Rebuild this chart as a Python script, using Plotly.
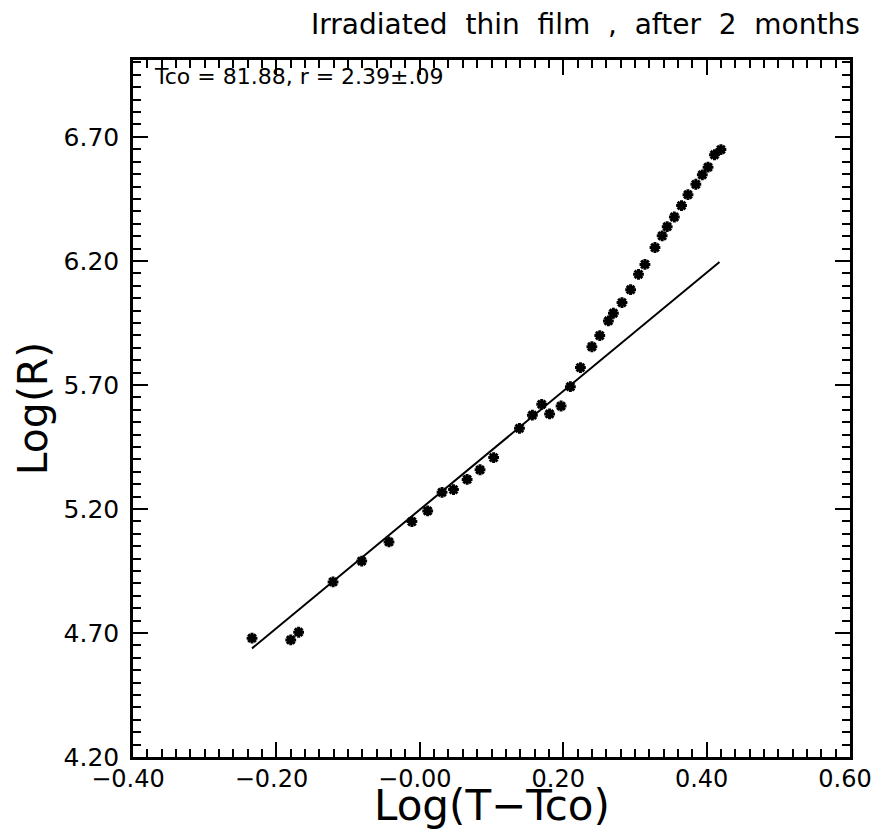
import plotly.graph_objects as go

# Measured data: log(T - Tco) vs log(R)
log_dt = [-0.234, -0.180, -0.169, -0.121, -0.081, -0.043, -0.011, 0.011, 0.031,
          0.047, 0.066, 0.084, 0.103, 0.139, 0.157, 0.170, 0.181, 0.197, 0.210,
          0.224, 0.240, 0.251, 0.263, 0.270, 0.282, 0.294, 0.305, 0.314, 0.328,
          0.338, 0.345, 0.355, 0.365, 0.374, 0.385, 0.394, 0.402, 0.411, 0.420]
log_r = [4.679, 4.672, 4.703, 4.906, 4.990, 5.067, 5.149, 5.192, 5.267,
         5.278, 5.319, 5.358, 5.407, 5.525, 5.578, 5.622, 5.583, 5.615, 5.693,
         5.770, 5.854, 5.899, 5.958, 5.989, 6.032, 6.084, 6.146, 6.186, 6.254,
         6.301, 6.338, 6.377, 6.423, 6.467, 6.509, 6.547, 6.578, 6.628, 6.649]

# Power-law fit line (r = 2.39)
fit_x = [-0.234, 0.418]
fit_y = [4.638, 6.196]

x_tick_vals = [-0.4, -0.2, 0.0, 0.2, 0.4, 0.6]
x_tick_text = ["\u22120.40", "\u22120.20", "\u22120.00", "0.20", "0.40", "0.60"]
y_tick_vals = [4.2, 4.7, 5.2, 5.7, 6.2, 6.7]
y_tick_text = ["4.20", "4.70", "5.20", "5.70", "6.20", "6.70"]

FONT = "DejaVu Sans, Liberation Sans, Arial, sans-serif"

fig = go.Figure()
fig.add_trace(go.Scatter(
    x=fit_x, y=fit_y, mode="lines",
    line=dict(color="black", width=2), showlegend=False, hoverinfo="skip"))
fig.add_trace(go.Scatter(
    x=log_dt, y=log_r, mode="markers",
    marker=dict(symbol="asterisk", size=9, color="black",
                line=dict(color="black", width=3)),
    showlegend=False))

axis_common = dict(
    showgrid=False, zeroline=False, showline=True, linecolor="black",
    linewidth=2.5, mirror="ticks", ticks="inside", ticklen=15, tickwidth=2,
    tickcolor="black",
)

fig.update_xaxes(
    **axis_common,
    range=[-0.4, 0.6], tickmode="array", tickvals=x_tick_vals, ticktext=x_tick_text,
    tickfont=dict(family=FONT, size=24, color="black"),
    ticklabelstandoff=-2, ticklabelshift=-5, ticklabeloverflow="allow",
    minor=dict(tick0=-0.4, dtick=0.02, ticks="inside", ticklen=8, tickwidth=1.5,
               tickcolor="black", showgrid=False),
)
fig.update_yaxes(
    **axis_common,
    range=[4.2, 7.01], tickmode="array", tickvals=y_tick_vals, ticktext=y_tick_text,
    tickfont=dict(family=FONT, size=25, color="black"),
    ticklabelstandoff=6,
    minor=dict(tick0=4.2, dtick=0.05, ticks="inside", ticklen=8, tickwidth=1.5,
               tickcolor="black", showgrid=False),
    title=dict(text="Log(R)", font=dict(family=FONT, size=41, color="black"),
               standoff=4),
)

# x-axis title placed as annotation for precise vertical position
fig.add_annotation(
    text="Log(T\u2212Tco)", xref="paper", yref="paper", x=0.5, y=-0.069,
    xanchor="center", yanchor="middle", showarrow=False,
    font=dict(family=FONT, size=42, color="black"))

sp = "\u00a0\u00a0"
fig.add_annotation(
    text=f"Irradiated{sp}thin{sp}film{sp},{sp}after{sp}2{sp}months",
    xref="paper", yref="paper", x=1.0167, y=1.0516, xanchor="right", yanchor="middle",
    showarrow=False, font=dict(family=FONT, size=28, color="black"))
fig.add_annotation(
    text="Tco = 81.88, r = 2.39\u00b1.09",
    xref="paper", yref="paper", x=0.027, y=0.977, xanchor="left", yanchor="middle",
    showarrow=False, font=dict(family=FONT, size=22, color="black"))

fig.update_layout(
    width=872, height=829,
    margin=dict(l=133, r=22, t=60, b=72, autoexpand=False),
    paper_bgcolor="white", plot_bgcolor="white",
    font=dict(family=FONT, color="black"),
)

fig.write_html(
    "out.html",
    config={"displayModeBar": False},
    post_script="document.body.style.margin='0';document.body.style.overflow='hidden';",
)
